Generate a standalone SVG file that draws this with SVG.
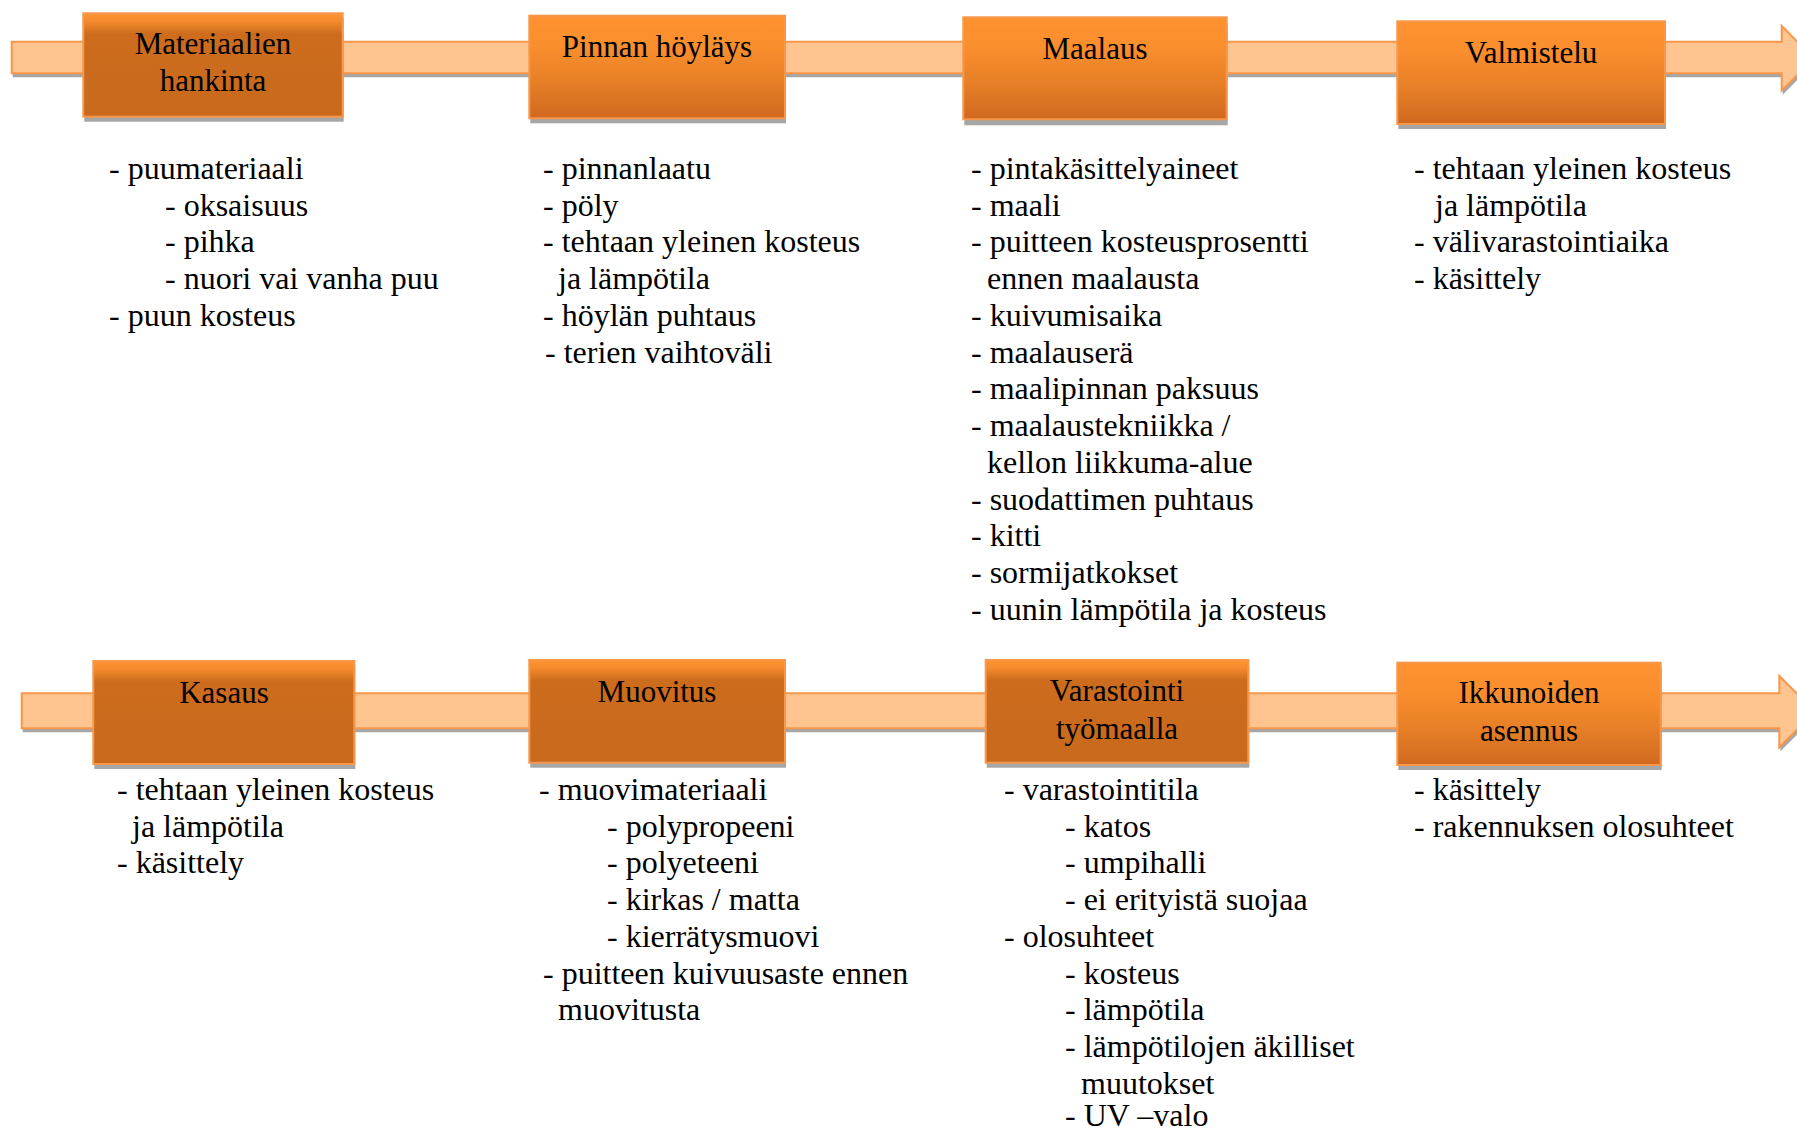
<svg xmlns="http://www.w3.org/2000/svg" width="1797" height="1132" viewBox="0 0 1797 1132">
  <defs>
    <linearGradient id="gDark" x1="0" y1="0" x2="0" y2="1">
      <stop offset="0" stop-color="#FF9634"/>
      <stop offset="0.08" stop-color="#F38A2C"/>
      <stop offset="0.2" stop-color="#CD6C1D"/>
      <stop offset="1" stop-color="#C8691C"/>
    </linearGradient>
    <linearGradient id="gLight" x1="0" y1="0" x2="0" y2="1">
      <stop offset="0" stop-color="#FF9230"/>
      <stop offset="0.3" stop-color="#F98E2D"/>
      <stop offset="0.65" stop-color="#E67F27"/>
      <stop offset="1" stop-color="#D0691F"/>
    </linearGradient>
  </defs>
  <style>
    .shadow { fill: #A6A6A6; }
    .bar { fill: #FFC591; stroke: #F8964A; stroke-width: 2; }
    .box { stroke: #F8964A; stroke-width: 2; }
    .dark { fill: url(#gDark); }
    .light { fill: url(#gLight); }
    .label { font-family: "Liberation Serif", "Times New Roman", serif; font-size: 31px; fill: #000; text-anchor: middle; }
    .list { font-family: "Liberation Serif", "Times New Roman", serif; font-size: 32px; fill: #000; }
  </style>

  <rect width="1797" height="1132" fill="#FFFFFF"/>

  <!-- process arrows running behind the step boxes -->
  <g id="connectors">
    <path class="shadow" transform="translate(1,4)" d="M11.7 41.7 H1781.7 V26 L1814 58.3 L1781.7 90.7 V73.3 H11.7 Z"/>
    <path class="bar" d="M11.7 41.7 H1781.7 V26 L1814 58.3 L1781.7 90.7 V73.3 H11.7 Z"/>
    <path class="shadow" transform="translate(1,4)" d="M21.7 693.3 H1779.3 V676 L1815 711.7 L1779.3 747.3 V728.3 H21.7 Z"/>
    <path class="bar" d="M21.7 693.3 H1779.3 V676 L1815 711.7 L1779.3 747.3 V728.3 H21.7 Z"/>
  </g>

  <!-- top row -->
  <g id="node-materiaalien-hankinta">
    <rect class="shadow" x="84.3" y="18.3" width="259.4" height="103.4"/>
    <rect class="box dark" x="83.3" y="13.3" width="259.4" height="103.4"/>
    <text class="label" x="213" y="54.3">Materiaalien</text>
    <text class="label" x="213" y="90.7">hankinta</text>
    <text class="list">
      <tspan x="109" y="178.8">- puumateriaali</tspan>
      <tspan x="165" y="215.5">- oksaisuus</tspan>
      <tspan x="165" y="252.3">- pihka</tspan>
      <tspan x="165" y="289">- nuori vai vanha puu</tspan>
      <tspan x="109" y="325.8">- puun kosteus</tspan>
    </text>
  </g>

  <g id="node-pinnan-hoylays">
    <rect class="shadow" x="530.3" y="20.7" width="255.7" height="102.6"/>
    <rect class="box light" x="529.3" y="15.7" width="255.7" height="102.6"/>
    <text class="label" x="657" y="57.3">Pinnan höyläys</text>
    <text class="list">
      <tspan x="543" y="178.8">- pinnanlaatu</tspan>
      <tspan x="543" y="215.5">- pöly</tspan>
      <tspan x="543" y="252.3">- tehtaan yleinen kosteus</tspan>
      <tspan x="558" y="289">ja lämpötila</tspan>
      <tspan x="543" y="325.8">- höylän puhtaus</tspan>
      <tspan x="545" y="362.5">- terien vaihtoväli</tspan>
    </text>
  </g>

  <g id="node-maalaus">
    <rect class="shadow" x="964.3" y="23.3" width="263.4" height="102"/>
    <rect class="box light" x="963.3" y="17.3" width="263.4" height="102"/>
    <text class="label" x="1095" y="59.3">Maalaus</text>
    <text class="list">
      <tspan x="971" y="178.8">- pintakäsittelyaineet</tspan>
      <tspan x="971" y="215.5">- maali</tspan>
      <tspan x="971" y="252.3">- puitteen kosteusprosentti</tspan>
      <tspan x="987" y="289">ennen maalausta</tspan>
      <tspan x="971" y="325.8">- kuivumisaika</tspan>
      <tspan x="971" y="362.5">- maalauserä</tspan>
      <tspan x="971" y="399.3">- maalipinnan paksuus</tspan>
      <tspan x="971" y="436">- maalaustekniikka /</tspan>
      <tspan x="987" y="472.8">kellon liikkuma-alue</tspan>
      <tspan x="971" y="509.5">- suodattimen puhtaus</tspan>
      <tspan x="971" y="546.3">- kitti</tspan>
      <tspan x="971" y="583">- sormijatkokset</tspan>
      <tspan x="971" y="619.8">- uunin lämpötila ja kosteus</tspan>
    </text>
  </g>

  <g id="node-valmistelu">
    <rect class="shadow" x="1398.3" y="26.3" width="267.7" height="102.7"/>
    <rect class="box light" x="1397.3" y="21.3" width="267.7" height="102.7"/>
    <text class="label" x="1531" y="63.3">Valmistelu</text>
    <text class="list">
      <tspan x="1414" y="178.8">- tehtaan yleinen kosteus</tspan>
      <tspan x="1435" y="215.5">ja lämpötila</tspan>
      <tspan x="1414" y="252.3">- välivarastointiaika</tspan>
      <tspan x="1414" y="289">- käsittely</tspan>
    </text>
  </g>

  <!-- bottom row -->
  <g id="node-kasaus">
    <rect class="shadow" x="94.3" y="666" width="261" height="103"/>
    <rect class="box dark" x="93.3" y="661" width="261" height="103"/>
    <text class="label" x="224" y="702.7">Kasaus</text>
    <text class="list">
      <tspan x="117" y="800">- tehtaan yleinen kosteus</tspan>
      <tspan x="132" y="836.7">ja lämpötila</tspan>
      <tspan x="117" y="873.4">- käsittely</tspan>
    </text>
  </g>

  <g id="node-muovitus">
    <rect class="shadow" x="530.3" y="665" width="255.7" height="102.7"/>
    <rect class="box dark" x="529.3" y="660" width="255.7" height="102.7"/>
    <text class="label" x="657" y="702.3">Muovitus</text>
    <text class="list">
      <tspan x="539" y="800">- muovimateriaali</tspan>
      <tspan x="607" y="836.7">- polypropeeni</tspan>
      <tspan x="607" y="873.4">- polyeteeni</tspan>
      <tspan x="607" y="910.1">- kirkas / matta</tspan>
      <tspan x="607" y="946.8">- kierrätysmuovi</tspan>
      <tspan x="543" y="983.5">- puitteen kuivuusaste ennen</tspan>
      <tspan x="558" y="1020.2">muovitusta</tspan>
    </text>
  </g>

  <g id="node-varastointi-tyomaalla">
    <rect class="shadow" x="986.7" y="665" width="262.6" height="102.7"/>
    <rect class="box dark" x="985.7" y="660" width="262.6" height="102.7"/>
    <text class="label" x="1117" y="701">Varastointi</text>
    <text class="label" x="1117" y="739.3">työmaalla</text>
    <text class="list">
      <tspan x="1004" y="800">- varastointitila</tspan>
      <tspan x="1065" y="836.7">- katos</tspan>
      <tspan x="1065" y="873.4">- umpihalli</tspan>
      <tspan x="1065" y="910.1">- ei erityistä suojaa</tspan>
      <tspan x="1004" y="946.8">- olosuhteet</tspan>
      <tspan x="1065" y="983.5">- kosteus</tspan>
      <tspan x="1065" y="1020.2">- lämpötila</tspan>
      <tspan x="1065" y="1056.9">- lämpötilojen äkilliset</tspan>
      <tspan x="1081" y="1093.6">muutokset</tspan>
      <tspan x="1065" y="1126">- UV –valo</tspan>
    </text>
  </g>

  <g id="node-ikkunoiden-asennus">
    <rect class="shadow" x="1398.3" y="667.7" width="263.4" height="102.3"/>
    <rect class="box light" x="1397.3" y="662.7" width="263.4" height="102.3"/>
    <text class="label" x="1529" y="702.7">Ikkunoiden</text>
    <text class="label" x="1529" y="741">asennus</text>
    <text class="list">
      <tspan x="1414" y="800">- käsittely</tspan>
      <tspan x="1414" y="836.7">- rakennuksen olosuhteet</tspan>
    </text>
  </g>
</svg>
